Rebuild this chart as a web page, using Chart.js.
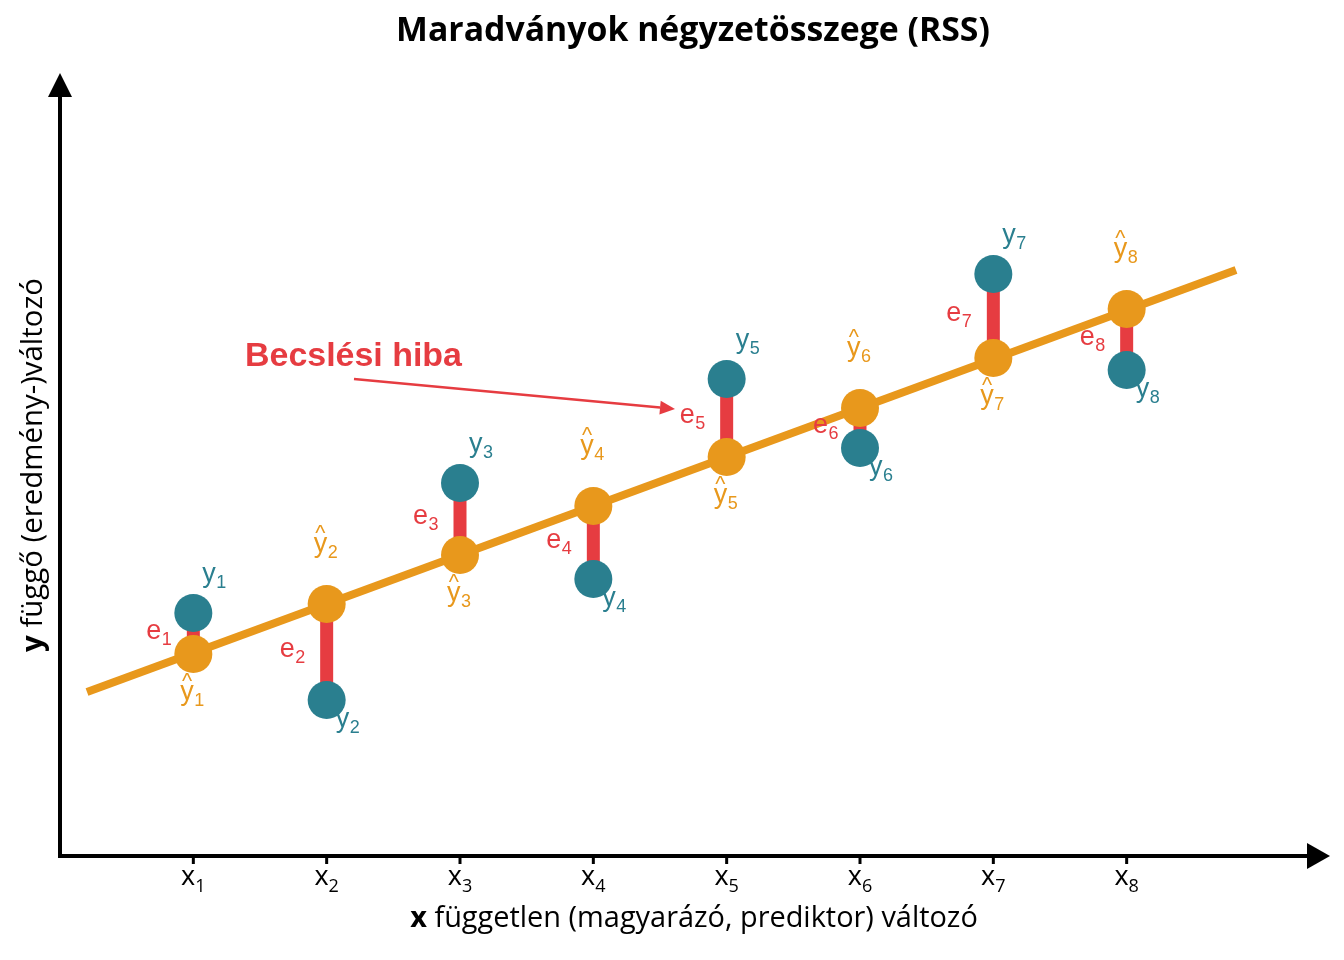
<!DOCTYPE html>
<html><head><meta charset="utf-8">
<script src="https://cdn.jsdelivr.net/npm/chart.js@4/dist/chart.umd.min.js"></script>
<style>html,body{margin:0;padding:0;background:#fff;overflow:hidden}#wrap{width:1344px;height:960px}canvas{display:block}</style>
</head><body><div id="wrap"><canvas id="c" width="1344" height="960"></canvas></div>
<script>
// ---- data ----
const xValues = [1, 2, 3, 4, 5, 6, 7, 8];
const xTickSubs = ['1', '2', '3', '4', '5', '6', '7', '8'];
const observedY = [4.86, 3.12, 7.46, 5.54, 9.54, 8.16, 11.64, 9.72];
const fittedY = [4.04, 5.04, 6.02, 7.00, 7.98, 8.96, 9.96, 10.94];
const regLineX = [0.2025, 8.82];
const regLineY = [3.28, 11.72];
const xRange = [0, 9.525];
const yRange = [0, 15.66];
const titleText = 'Maradványok négyzetösszege (RSS)';
const xTitleBold = 'x';
const xTitleRest = ' független (magyarázó, prediktor) változó';
const yTitleBold = 'y';
const yTitleRest = ' függő (eredmény-)változó';
const annotationText = 'Becslési hiba';
const annotationX = [1.3875];
const annotationY = [9.8];
const arrowX = [2.205, 4.6125];
const arrowY = [9.54, 8.94];

// ---- styles ----
const TEAL = '#2a7f8f', ORANGE = '#e8981c', RED = '#e63c41', BLACK = '#000';
const LABEL_FONT = '"Liberation Sans", Arial, sans-serif';
const AXIS_FONT = '"Open Sans", "Noto Sans", sans-serif';

function fitSize(ctx, parts, family, target, base) {
  let w = 0;
  parts.forEach(p => { ctx.font = `${p.w} ${base}px ${family}`; w += ctx.measureText(p.t).width; });
  return base * target / w;
}

function subText(ctx, x, y, main, sub, color, size, hat) {
  ctx.save();
  ctx.fillStyle = color; ctx.textAlign = 'left'; ctx.textBaseline = 'alphabetic';
  ctx.font = `${size}px ${LABEL_FONT}`;
  ctx.fillText(main, x, y);
  const w = ctx.measureText(main).width;
  if (hat) {
    const hs = size * 0.8;
    ctx.font = `${hs}px ${LABEL_FONT}`;
    const hw = ctx.measureText('^').width;
    ctx.fillText('^', x + (w - hw) / 2, y - size * 0.45);
  }
  ctx.font = `${Math.round(size * 0.68)}px ${LABEL_FONT}`;
  ctx.fillText(sub, x + w + 0.5, y + 6);
  ctx.restore();
}

const decor = {
  id: 'decor',
  beforeDatasetsDraw(chart) {
    const ctx = chart.ctx, xs = chart.scales.x, ys = chart.scales.y;
    const ox = xs.getPixelForValue(xRange[0]), oy = ys.getPixelForValue(yRange[0]);
    const right = xs.getPixelForValue(xRange[1]), top = ys.getPixelForValue(yRange[1]);
    ctx.save();
    ctx.strokeStyle = BLACK; ctx.fillStyle = BLACK; ctx.lineWidth = 4; ctx.lineCap = 'butt';
    ctx.beginPath();
    ctx.moveTo(ox, top + 22); ctx.lineTo(ox, oy); ctx.lineTo(right - 20, oy);
    ctx.stroke();
    ctx.beginPath();
    ctx.moveTo(ox, top); ctx.lineTo(ox - 12, top + 24); ctx.lineTo(ox + 12, top + 24); ctx.closePath(); ctx.fill();
    ctx.beginPath();
    ctx.moveTo(right, oy); ctx.lineTo(right - 23, oy - 13); ctx.lineTo(right - 23, oy + 13); ctx.closePath(); ctx.fill();
    ctx.lineWidth = 3;
    xValues.forEach((v, i) => {
      const px = xs.getPixelForValue(v);
      ctx.beginPath(); ctx.moveTo(px, oy); ctx.lineTo(px, oy + 8); ctx.stroke();
      ctx.font = `27px ${AXIS_FONT}`;
      const w1 = ctx.measureText('x').width;
      ctx.font = `18px ${AXIS_FONT}`;
      const w2 = ctx.measureText(xTickSubs[i]).width;
      const sx = px - (w1 + w2) / 2;
      ctx.textBaseline = 'alphabetic'; ctx.textAlign = 'left';
      ctx.font = `27px ${AXIS_FONT}`; ctx.fillText('x', sx, oy + 29);
      ctx.font = `18px ${AXIS_FONT}`; ctx.fillText(xTickSubs[i], sx + w1, oy + 36);
    });
    ctx.restore();
  },
  afterDatasetsDraw(chart) {
    const ctx = chart.ctx, xs = chart.scales.x, ys = chart.scales.y;
    const S = 27;
    xValues.forEach((v, i) => {
      const px = xs.getPixelForValue(v);
      const po = ys.getPixelForValue(observedY[i]);
      const pf = ys.getPixelForValue(fittedY[i]);
      const up = observedY[i] > fittedY[i];
      const n = xTickSubs[i];
      subText(ctx, px + 9, up ? po - 31 : po + 27, 'y', n, TEAL, S, false);
      subText(ctx, px - 13, up ? pf + 46 : pf - 52, 'y', n, ORANGE, S, true);
      subText(ctx, px - 47, (po + pf) / 2 + 5, 'e', n, RED, S, false);
    });
    ctx.save();
    const ax0 = xs.getPixelForValue(arrowX[0]), ay0 = ys.getPixelForValue(arrowY[0]);
    const ax1 = xs.getPixelForValue(arrowX[1]), ay1 = ys.getPixelForValue(arrowY[1]);
    const ang = Math.atan2(ay1 - ay0, ax1 - ax0);
    const L = 15, Wd = 7;
    const bx = ax1 - L * Math.cos(ang), by = ay1 - L * Math.sin(ang);
    ctx.strokeStyle = RED; ctx.fillStyle = RED; ctx.lineWidth = 2.5;
    ctx.beginPath(); ctx.moveTo(ax0, ay0); ctx.lineTo(bx, by); ctx.stroke();
    ctx.beginPath(); ctx.moveTo(ax1, ay1);
    ctx.lineTo(bx + Wd * Math.sin(ang), by - Wd * Math.cos(ang));
    ctx.lineTo(bx - Wd * Math.sin(ang), by + Wd * Math.cos(ang));
    ctx.closePath(); ctx.fill();
    const as = fitSize(ctx, [{w: 'bold', t: annotationText}], LABEL_FONT, 217, 28);
    ctx.font = `bold ${as}px ${LABEL_FONT}`;
    ctx.textAlign = 'left'; ctx.textBaseline = 'alphabetic';
    ctx.fillText(annotationText, xs.getPixelForValue(annotationX[0]), ys.getPixelForValue(annotationY[0]));
    ctx.restore();
  },
  afterDraw(chart) {
    const ctx = chart.ctx;
    ctx.save();
    ctx.fillStyle = BLACK; ctx.textBaseline = 'alphabetic';
    const ts = fitSize(ctx, [{w: 'bold', t: titleText}], AXIS_FONT, 594, 30);
    ctx.font = `bold ${ts}px ${AXIS_FONT}`; ctx.textAlign = 'center';
    ctx.fillText(titleText, 693, 41);
    const xsz = fitSize(ctx, [{w: 'bold', t: xTitleBold}, {w: 'normal', t: xTitleRest}], AXIS_FONT, 568, 24);
    ctx.textAlign = 'left';
    ctx.font = `bold ${xsz}px ${AXIS_FONT}`;
    const wb = ctx.measureText(xTitleBold).width;
    ctx.font = `normal ${xsz}px ${AXIS_FONT}`;
    const wr = ctx.measureText(xTitleRest).width;
    let sx = 694 - (wb + wr) / 2;
    ctx.font = `bold ${xsz}px ${AXIS_FONT}`; ctx.fillText(xTitleBold, sx, 927);
    ctx.font = `normal ${xsz}px ${AXIS_FONT}`; ctx.fillText(xTitleRest, sx + wb, 927);
    const ysz = fitSize(ctx, [{w: 'bold', t: yTitleBold}, {w: 'normal', t: yTitleRest}], AXIS_FONT, 374, 24);
    ctx.font = `bold ${ysz}px ${AXIS_FONT}`;
    const wb2 = ctx.measureText(yTitleBold).width;
    ctx.font = `normal ${ysz}px ${AXIS_FONT}`;
    const wr2 = ctx.measureText(yTitleRest).width;
    ctx.translate(42, 465); ctx.rotate(-Math.PI / 2);
    let sy = -(wb2 + wr2) / 2;
    ctx.font = `bold ${ysz}px ${AXIS_FONT}`; ctx.fillText(yTitleBold, sy, 0);
    ctx.font = `normal ${ysz}px ${AXIS_FONT}`; ctx.fillText(yTitleRest, sy + wb2, 0);
    ctx.restore();
  }
};

const pts = (xa, ya) => xa.map((x, i) => ({x, y: ya[i]}));

new Chart(document.getElementById('c'), {
  type: 'scatter',
  data: {
    datasets: [
      { label: 'y', data: pts(xValues, observedY), showLine: false, pointRadius: 19,
        pointBackgroundColor: TEAL, pointBorderWidth: 0, pointHoverRadius: 19, order: 1 },
      { label: 'ŷ', data: pts(xValues, fittedY), showLine: false, pointRadius: 19,
        pointBackgroundColor: ORANGE, pointBorderWidth: 0, pointHoverRadius: 19, order: 2 },
      { label: 'regresszió', data: pts(regLineX, regLineY), showLine: true, borderColor: ORANGE,
        borderWidth: 8, pointRadius: 0, borderCapStyle: 'butt', order: 3 },
      { label: 'e', data: xValues.flatMap((x, i) => [{x, y: fittedY[i]}, {x, y: observedY[i]}, {x, y: null}]),
        showLine: true, spanGaps: false, borderColor: RED, borderWidth: 13, pointRadius: 0,
        borderCapStyle: 'butt', order: 4 }
    ]
  },
  options: {
    responsive: false, animation: false, events: [], devicePixelRatio: 1,
    layout: { autoPadding: false, padding: { left: 60, right: 14, top: 73, bottom: 104 } },
    scales: {
      x: { type: 'linear', min: xRange[0], max: xRange[1], display: false },
      y: { type: 'linear', min: yRange[0], max: yRange[1], display: false }
    },
    plugins: { legend: { display: false }, tooltip: { enabled: false }, title: { display: false } }
  },
  plugins: [decor]
});
</script></body></html>
